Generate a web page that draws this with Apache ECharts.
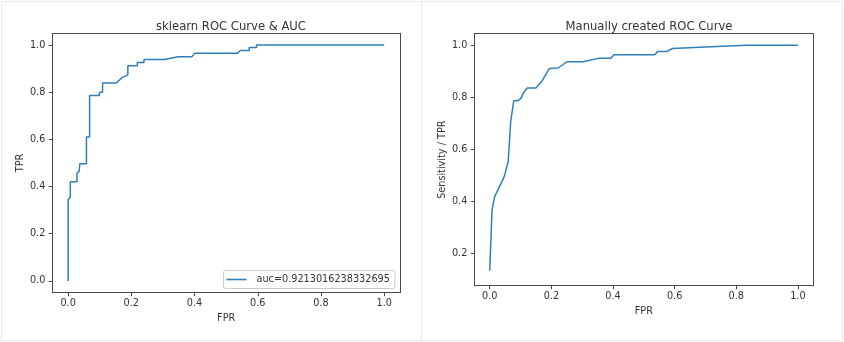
<!DOCTYPE html>
<html>
<head>
<meta charset="utf-8">
<script src="https://cdn.jsdelivr.net/npm/echarts@6/dist/echarts.min.js"></script>
<style>
  html, body { margin: 0; padding: 0; background: #ffffff; }
  #chart { width: 844px; height: 342px; }
</style>
</head>
<body>
<div id="chart"></div>
<script>
// ROC points returned by sklearn.metrics.roc_curve
const sklearnFpr = [0, 0, 0.007, 0.007, 0.028, 0.028, 0.035, 0.037, 0.058, 0.058, 0.068, 0.068,
  0.099, 0.099, 0.109, 0.109, 0.152, 0.172, 0.189, 0.189, 0.219, 0.219, 0.24, 0.24,
  0.305, 0.348, 0.392, 0.40, 0.535, 0.545, 0.573, 0.573, 0.596, 0.596, 1.0];
const sklearnTpr = [0, 0.344, 0.357, 0.42, 0.42, 0.457, 0.465, 0.497, 0.497, 0.61, 0.61, 0.786,
  0.786, 0.80, 0.80, 0.839, 0.839, 0.863, 0.874, 0.912, 0.912, 0.926, 0.926, 0.939,
  0.939, 0.951, 0.951, 0.965, 0.965, 0.977, 0.977, 0.99, 0.99, 1.0, 1.0];
const aucLabel = 'auc=0.9213016238332695';

// ROC points computed by hand over a grid of thresholds
const manualFpr = [0, 0.0076, 0.016, 0.029, 0.047, 0.06, 0.068, 0.078, 0.089, 0.10, 0.112,
  0.122, 0.15, 0.17, 0.192, 0.20, 0.222, 0.251, 0.303, 0.352, 0.393, 0.403, 0.535,
  0.545, 0.574, 0.593, 0.70, 0.833, 1.0];
const manualTpr = [0.133, 0.367, 0.418, 0.45, 0.495, 0.553, 0.706, 0.787, 0.787, 0.794, 0.822,
  0.836, 0.836, 0.863, 0.909, 0.912, 0.913, 0.937, 0.937, 0.95, 0.95, 0.964, 0.964,
  0.976, 0.976, 0.988, 0.994, 1.0, 1.0];

const xTicks = [0, 0.2, 0.4, 0.6, 0.8, 1.0];
const yTicksLeft = [0, 0.2, 0.4, 0.6, 0.8, 1.0];
const yTicksRight = [0.2, 0.4, 0.6, 0.8, 1.0];

const FONT = 'DejaVu Sans';
const TEXT = '#333333';
const SPINE = '#4a4a4a';
const LINE = '#2f7fba';

function pairs(xs, ys) { return xs.map((x, i) => [x, ys[i]]); }

function xAxisCfg(gridIndex, name) {
  return {
    type: 'value', gridIndex, min: -0.05, max: 1.05,
    name, nameLocation: 'middle', nameGap: 19,
    nameTextStyle: { fontFamily: FONT, fontSize: 9.7, color: TEXT },
    axisLine: { show: true, onZero: false, lineStyle: { color: SPINE, width: 1 } },
    axisTick: { show: true, length: 3.5, lineStyle: { color: SPINE }, customValues: xTicks },
    axisLabel: { fontFamily: FONT, fontSize: 9.7, color: TEXT, margin: 6,
      customValues: xTicks, formatter: v => v.toFixed(1) },
    splitLine: { show: false }
  };
}
function yAxisCfg(gridIndex, name, min, max, ticks, gap) {
  return {
    type: 'value', gridIndex, min, max,
    name, nameLocation: 'middle', nameGap: gap, nameRotate: 90,
    nameTextStyle: { fontFamily: FONT, fontSize: 9.7, color: TEXT },
    axisLine: { show: true, onZero: false, lineStyle: { color: SPINE, width: 1 } },
    axisTick: { show: true, length: 3.5, lineStyle: { color: SPINE }, customValues: ticks },
    axisLabel: { fontFamily: FONT, fontSize: 9.7, color: TEXT, margin: 7,
      customValues: ticks, formatter: v => v.toFixed(1) },
    splitLine: { show: false }
  };
}
// top and right spines of each axes box
function boxAxes(gridIndex) {
  const hidden = { show: false };
  return {
    x: { type: 'value', gridIndex, position: 'top', min: 0, max: 1,
      axisLine: { show: true, onZero: false, lineStyle: { color: SPINE, width: 1 } },
      axisTick: hidden, axisLabel: hidden, splitLine: hidden },
    y: { type: 'value', gridIndex, position: 'right', min: 0, max: 1,
      axisLine: { show: true, onZero: false, lineStyle: { color: SPINE, width: 1 } },
      axisTick: hidden, axisLabel: hidden, splitLine: hidden }
  };
}
const box0 = boxAxes(0), box1 = boxAxes(1);

const chart = echarts.init(document.getElementById('chart'), null, { renderer: 'canvas' });
chart.setOption({
  animation: false,
  backgroundColor: '#ffffff',
  title: [
    { text: 'sklearn ROC Curve & AUC', left: 226, top: 16, textAlign: 'center',
      textStyle: { fontFamily: FONT, fontSize: 11.6, fontWeight: 'normal', color: TEXT } },
    { text: 'Manually created ROC Curve', left: 644, top: 16, textAlign: 'center',
      textStyle: { fontFamily: FONT, fontSize: 11.6, fontWeight: 'normal', color: TEXT } }
  ],
  grid: [
    { left: 52.3, top: 33.3, width: 347.7, height: 259.4 },
    { left: 474.3, top: 33.7, width: 339, height: 252 }
  ],
  xAxis: [xAxisCfg(0, 'FPR'), xAxisCfg(1, 'FPR'), box0.x, box1.x],
  yAxis: [
    yAxisCfg(0, 'TPR', -0.05, 1.05, yTicksLeft, 27),
    yAxisCfg(1, 'Sensitivity / TPR', 0.0756, 1.0449, yTicksRight, 26.5),
    box0.y, box1.y
  ],
  legend: {
    data: [aucLabel],
    left: 223.5, top: 270.5,
    orient: 'vertical',
    backgroundColor: '#ffffff',
    borderColor: '#cccccc', borderWidth: 1, borderRadius: 2,
    padding: [4, 5, 4, 3],
    itemWidth: 20, itemHeight: 1.6,
    icon: 'rect',
    textStyle: { fontFamily: FONT, fontSize: 9.7, color: TEXT, padding: [0, 0, 0, 5] }
  },
  series: [
    { name: aucLabel, type: 'line', xAxisIndex: 0, yAxisIndex: 0,
      data: pairs(sklearnFpr, sklearnTpr), showSymbol: false, symbol: 'none',
      lineStyle: { color: LINE, width: 1.5 }, itemStyle: { color: LINE } },
    { name: 'manual', type: 'line', xAxisIndex: 1, yAxisIndex: 1,
      data: pairs(manualFpr, manualTpr), showSymbol: false, symbol: 'none',
      lineStyle: { color: LINE, width: 1.5 }, itemStyle: { color: LINE } }
  ],
  graphic: [
    { type: 'rect', shape: { x: 1.5, y: 1.5, width: 841, height: 339 },
      style: { fill: 'none', stroke: '#e6e9f0', lineWidth: 1 }, silent: true },
    { type: 'line', shape: { x1: 421.5, y1: 1.5, x2: 421.5, y2: 340.5 },
      style: { stroke: '#e6e9f0', lineWidth: 1 }, silent: true }
  ]
});
</script>
</body>
</html>
